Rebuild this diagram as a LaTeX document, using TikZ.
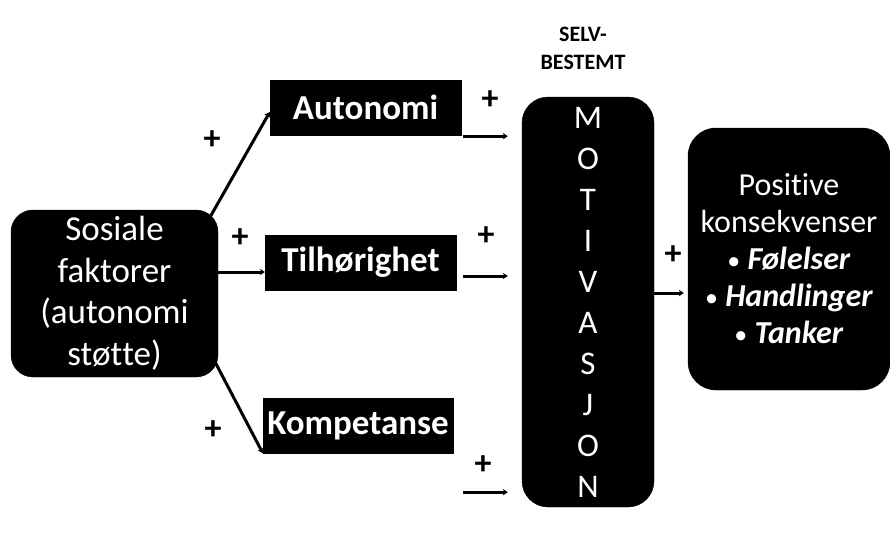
\documentclass[tikz,border=0pt]{standalone}
\usepackage{fontspec}
\setmainfont[Ligatures=NoCommon]{Carlito}
\usetikzlibrary{arrows.meta,calc}
\newcommand{\smallbul}{{\fontsize{26}{26}\selectfont•}}
\begin{document}
\begin{tikzpicture}[x=1pt,y=-1pt,
  blackbox/.style={fill=black,draw=black,text=white,inner sep=0pt,align=center},
  roundbox/.style={blackbox,rounded corners=22pt},
  arr/.style={line width=3pt,-{Stealth[length=5pt,width=6.5pt]}},
  plus/.style={font=\fontsize{34}{34}\selectfont\bfseries,inner sep=0pt}]
\useasboundingbox[fill=white] (0,0) rectangle (890,536);

\node[roundbox,minimum width=207pt,minimum height=167pt,font=\fontsize{35}{41.5}\selectfont]
  (sos) at (114.5,293.5) {Sosiale\\faktorer\\(autonomi\\støt\kern0pt te)};
\node[blackbox,minimum width=191pt,minimum height=55pt,font=\fontsize{35}{35}\selectfont\bfseries]
  (aut) at (365.5,107.5) {Autonomi};
\node[blackbox,minimum width=191pt,minimum height=55pt,font=\fontsize{35}{35}\selectfont\bfseries]
  (til) at (360.5,262.5) {Tilhørighet};
\node[blackbox,minimum width=190pt,minimum height=55pt,font=\fontsize{35}{35}\selectfont\bfseries]
  (kom) at (358,425.5) {Kompetanse};
\node[roundbox,rounded corners=26pt,minimum width=132pt,minimum height=410pt,font=\fontsize{33}{41}\selectfont]
  (mot) at (588,302) {M\\O\\T\\I\\V\\A\\S\\J\\O\\N};
\node[roundbox,rounded corners=28pt,minimum width=202pt,minimum height=262pt,font=\fontsize{32}{37}\selectfont]
  (pos) at (789,259) {Posit\kern0pt ive\\konsekvenser\\\smallbul\ \textbf{\textit{Følelser}}\\\smallbul\ \textbf{\textit{Handlinger}}\\\smallbul\ \textbf{\textit{Tanker}}};
\node[font=\fontsize{22}{28}\selectfont\bfseries,align=center,inner sep=0pt]
  (selv) at (583,48) {SELV-\\BESTEMT};

% connectors from Sosiale faktorer
\draw[arr] ($(sos.north east)+(-8,7)$) -- ($(aut.west)+(0,4.5)$);
\draw[arr] ($(sos.east)+(0,-21.5)$) -- ($(til.west)+(0,9.5)$);
\draw[arr] ($(sos.south east)+(-3,-15)$) -- (kom.south west);

% short arrows towards Motivasjon
\coordinate (a1) at ($(aut.south east)+(2,1)$);
\coordinate (a2) at ($(til.east)+(7,13.5)$);
\coordinate (a3) at ($(kom.south east)+(10,39)$);
\draw[arr] (a1) -- ($(mot.west |- a1)+(-14,0)$);
\draw[arr] (a2) -- ($(mot.west |- a2)+(-14,0)$);
\draw[arr] (a3) -- ($(mot.west |- a3)+(-14,0)$);
\draw[arr] ($(mot.east)+(0,-9)$) -- ($(pos.west)+(-4,34)$);

% plus signs
\node[plus] (p1) at (212,140) {+};
\node[plus] (p2) at (240,238) {+};
\node[plus] (p3) at (213,430) {+};
\node[plus] (p4) at (490,100) {+};
\node[plus] (p5) at (486,236) {+};
\node[plus] (p6) at (483,465) {+};
\node[plus] (p7) at (673,255) {+};
\end{tikzpicture}
\end{document}
